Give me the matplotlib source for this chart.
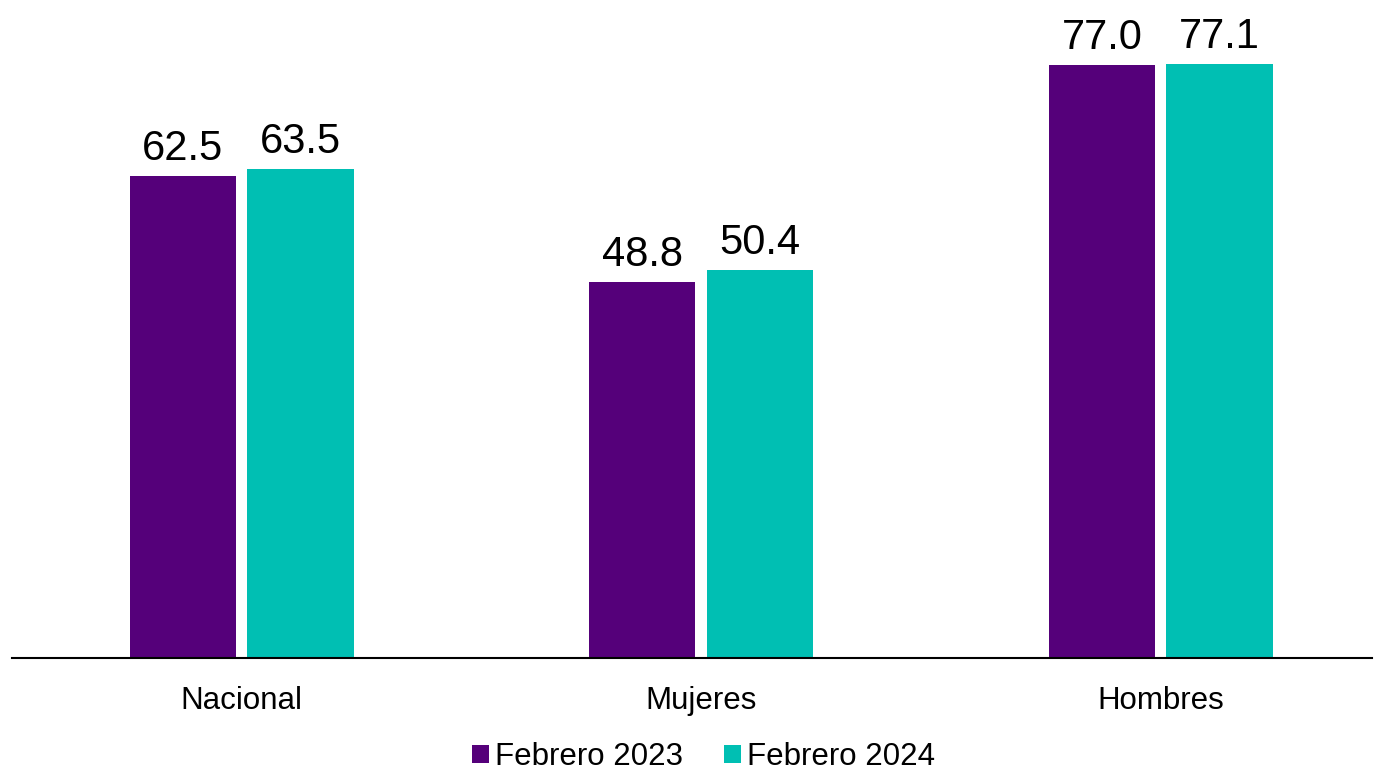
import numpy as np
import matplotlib.pyplot as plt

plt.rcParams['font.family'] = ['Liberation Sans', 'DejaVu Sans']

categorias = ['Nacional', 'Mujeres', 'Hombres']
feb_2023 = [62.5, 48.8, 77.0]
feb_2024 = [63.5, 50.4, 77.1]
series = ['Febrero 2023', 'Febrero 2024']

morado = '#55007A'
turquesa = '#00BFB3'

fig = plt.figure(figsize=(13.74, 7.74), dpi=100)
ax = fig.add_axes([12 / 1374, 116 / 774, 1360 / 1374, 658 / 774])

x = np.arange(len(categorias))
ancho = 0.231
desp = 0.128

b1 = ax.bar(x - desp, feb_2023, ancho, color=morado, label=series[0])
b2 = ax.bar(x + desp, feb_2024, ancho, color=turquesa, label=series[1])

for barras in (b1, b2):
    for b in barras:
        ax.annotate(f'{b.get_height():.1f}', (b.get_x() + b.get_width() / 2, b.get_height()),
                    xytext=(0, 5), textcoords='offset points',
                    ha='center', va='bottom', fontsize=30)

ax.set_xlim(-0.5, 2.46)
ax.set_ylim(0, 85.4)
ax.set_xticks(x)
ax.set_xticklabels(categorias, fontsize=22.5)
ax.tick_params(axis='x', length=0, pad=20)
ax.set_yticks([])
for s in ['top', 'left', 'right']:
    ax.spines[s].set_visible(False)
ax.spines['bottom'].set_linewidth(1.5)
ax.spines['bottom'].set_color('black')

fig.legend(handles=[b1, b2], labels=series, loc='center',
           bbox_to_anchor=(0.512, 1 - 757 / 774), ncol=2, frameon=False,
           fontsize=22.5, handlelength=0.55, handleheight=0.55,
           handletextpad=0.2, columnspacing=1.3)

fig.savefig('out.png', dpi=100)
